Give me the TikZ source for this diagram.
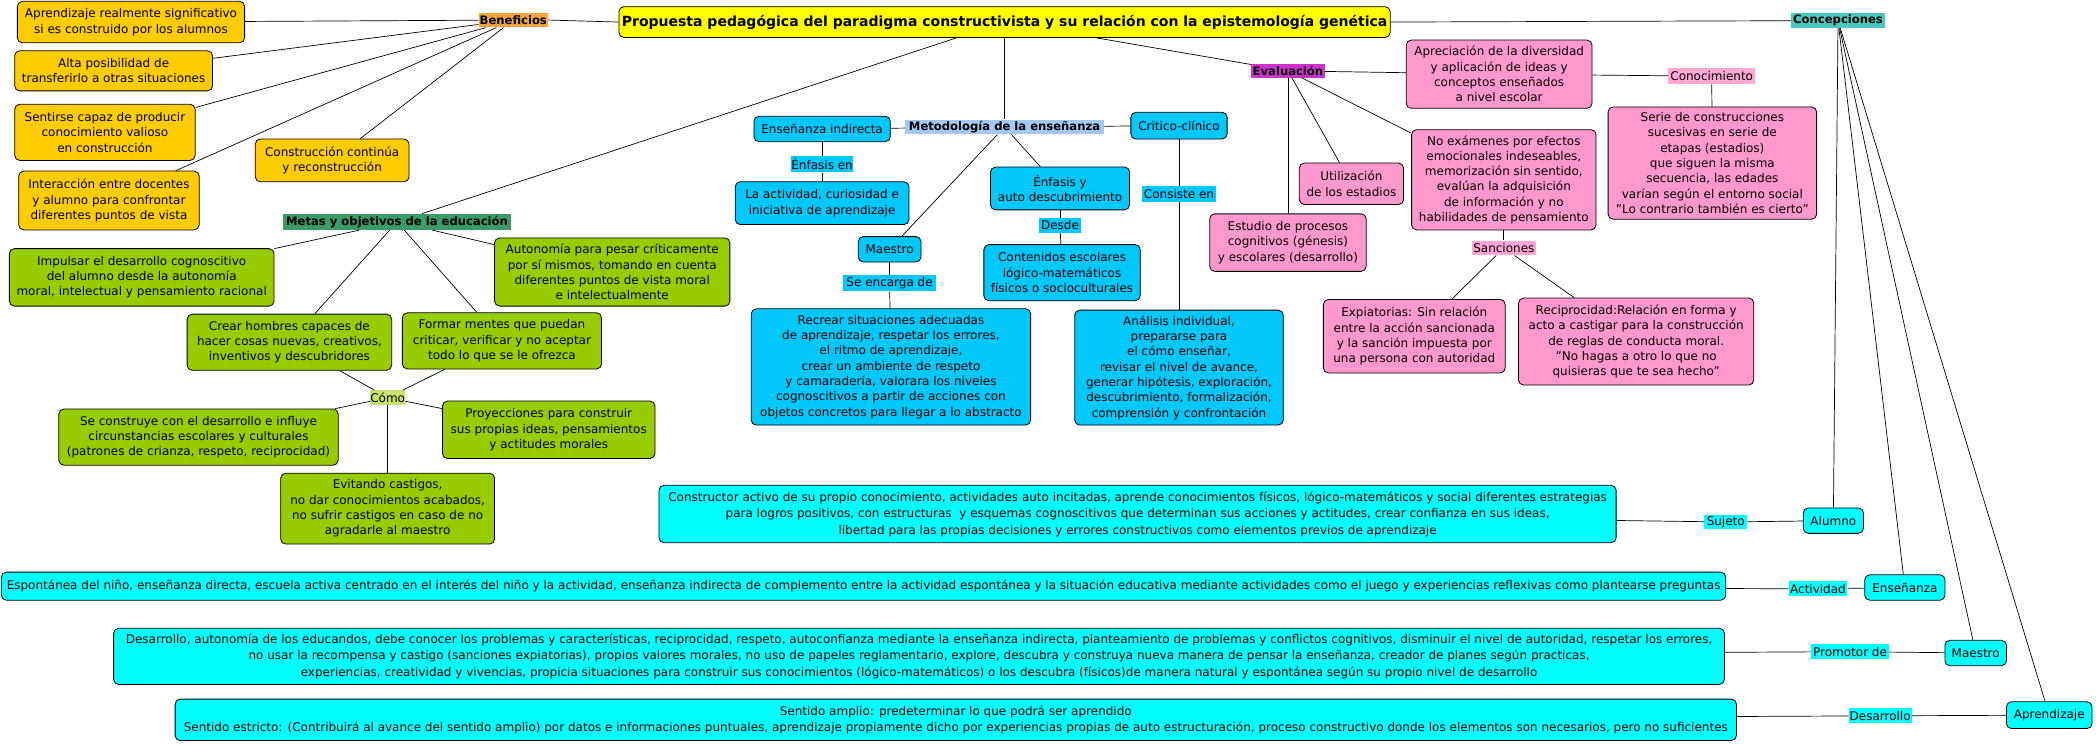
\documentclass[tikz,border=0pt]{standalone}
\usepackage{fontspec}
\setmainfont{DejaVu Sans}
\definecolor{cTitle}{HTML}{FFFF00}
\definecolor{cBen}{HTML}{F2A33A}
\definecolor{cGold}{HTML}{FFCC00}
\definecolor{cMetas}{HTML}{3A9A6A}
\definecolor{cGreen}{HTML}{99CC00}
\definecolor{cComo}{HTML}{C8E270}
\definecolor{cMet}{HTML}{A4C8F0}
\definecolor{cCyan}{HTML}{00C8FA}
\definecolor{cEval}{HTML}{CC33CC}
\definecolor{cPink}{HTML}{FF99CC}
\definecolor{cPinkL}{HTML}{FFA8D4}
\definecolor{cConc}{HTML}{48C9C0}
\definecolor{cAqua}{HTML}{00FFFF}
\begin{document}
\begin{tikzpicture}[x=1.33673pt,y=-1.33673pt,
  sz/.style 2 args={minimum width=#1*1.33673pt, minimum height=#2*1.33673pt},
  box/.style={draw=black, line width=0.8pt, rounded corners=5pt, align=center, inner sep=0pt, font=\fontsize{12}{15.3}\selectfont},
  bbox/.style={box, fill=cAqua, font=\fontsize{12}{16.5}\selectfont},
  lab/.style={inner sep=0pt, align=center, font=\fontsize{12}{14}\selectfont},
  blab/.style={inner sep=0pt, align=center, font=\fontsize{11.6}{14}\selectfont\bfseries},
  conn/.style={draw=black, line width=0.7pt}]
\fill[white] (0,0) rectangle (1568,556.6);
\useasboundingbox (0,0) rectangle (1568,556.6);

% title
\node[box, fill=cTitle, sz={577}{23}, font=\fontsize{14}{16}\selectfont\bfseries] (title) at (751.5,16.5) {Propuesta pedagógica del paradigma constructivista y su relación con la epistemología genética};

% Beneficios
\node[blab, fill=cBen, sz={52}{11}] (ben) at (384,15) {Beneficios};
\node[box, fill=cGold, sz={170}{31}] (b1) at (98,16.5) {Aprendizaje realmente significativo\\si es construido por los alumnos};
\node[box, fill=cGold, sz={148}{30}] (b2) at (85,53) {Alta posibilidad de\\transferirlo a otras situaciones};
\node[box, fill=cGold, sz={135}{42}] (b3) at (78.5,99) {Sentirse capaz de producir\\conocimiento valioso\\en construcción};
\node[box, fill=cGold, sz={135}{44}] (b4) at (81.5,150) {Interacción entre docentes\\y alumno para confrontar\\diferentes puntos de vista};
\node[box, fill=cGold, sz={115}{32}] (b5) at (248.5,120) {Construcción continúa\\y reconstrucción};

% Metas
\node[blab, fill=cMetas, sz={170}{12}] (metas) at (297,166) {Metas y objetivos de la educación};
\node[box, fill=cGreen, sz={198}{43}] (m1) at (106,207.5) {Impulsar el desarrollo cognoscitivo\\del alumno desde la autonomía\\moral, intelectual y pensamiento racional};
\node[box, fill=cGreen, sz={176}{51}] (m2) at (458,203.5) {Autonomía para pesar críticamente\\por sí mismos, tomando en cuenta\\diferentes puntos de vista moral\\e intelectualmente};
\node[box, fill=cGreen, sz={153}{42}] (m3) at (216.5,256) {Crear hombres capaces de\\hacer cosas nuevas, creativos,\\inventivos y descubridores};
\node[box, fill=cGreen, sz={149}{42}] (m4) at (375.5,255) {Formar mentes que puedan\\criticar, verificar y no aceptar\\todo lo que se le ofrezca};
\node[lab, fill=cComo, sz={26}{11}] (como) at (290,297.5) {Cómo};
\node[box, fill=cGreen, sz={209}{42}] (c1) at (148.5,327) {Se construye con el desarrollo e influye\\circunstancias escolares y culturales\\(patrones de crianza, respeto, reciprocidad)};
\node[box, fill=cGreen, sz={159}{43}] (c2) at (410.5,321.5) {Proyecciones para construir\\sus propias ideas, pensamientos\\y actitudes morales};
\node[box, fill=cGreen, sz={160}{53}] (c3) at (290,380.5) {Evitando castigos,\\no dar conocimientos acabados,\\no sufrir castigos en caso de no\\agradarle al maestro};

% Metodologia
\node[blab, fill=cMet, sz={149}{11}] (met) at (751.5,95) {Metodología de la enseñanza};
\node[box, fill=cCyan, sz={102}{19}] (ensind) at (615,96.5) {Enseñanza indirecta};
\node[lab, fill=cCyan, sz={46}{12}] (enf1) at (615,123) {Énfasis en};
\node[box, fill=cCyan, sz={130}{32}] (act) at (615,152) {La actividad, curiosidad e\\iniciativa de aprendizaje};
\node[box, fill=cCyan, sz={72}{20}] (crit) at (882,94) {Critico-clínico};
\node[lab, fill=cCyan, sz={56}{12}] (consiste) at (882,145) {Consiste en};
\node[box, fill=cCyan, sz={156}{86}] (anal) at (882,275) {Análisis individual,\\prepararse para\\el cómo enseñar,\\revisar el nivel de avance,\\generar hipótesis, exploración,\\descubrimiento, formalización,\\comprensión y confrontación};
\node[box, fill=cCyan, sz={104}{32}] (enfy) at (793,141) {Énfasis y\\auto descubrimiento};
\node[lab, fill=cCyan, sz={32}{11}] (desde) at (793,168.5) {Desde};
\node[box, fill=cCyan, sz={117}{42}] (cont) at (794.5,204) {Contenidos escolares\\lógico-matemáticos\\físicos o socioculturales};
\node[box, fill=cCyan, sz={47}{19}] (maes) at (665.5,186.5) {Maestro};
\node[lab, fill=cCyan, sz={69}{12}] (seenc) at (665.5,212) {Se encarga de};
\node[box, fill=cCyan, sz={209}{87}] (recrear) at (666.5,274.5) {Recrear situaciones adecuadas\\de aprendizaje, respetar los errores,\\el ritmo de aprendizaje,\\crear un ambiente de respeto\\y camaradería, valorara los niveles\\cognoscitivos a partir de acciones con\\objetos concretos para llegar a lo abstracto};

% Evaluacion
\node[blab, fill=cEval, sz={55}{10}] (eval) at (963.5,53) {Evaluación};
\node[box, fill=cPink, sz={139}{51}] (apre) at (1121.5,55.5) {Apreciación de la diversidad\\y aplicación de ideas y\\conceptos enseñados\\a nivel escolar};
\node[lab, fill=cPinkL, sz={65}{12}] (conoc) at (1280.5,57) {Conocimiento};
\node[box, fill=cPink, sz={156}{84}] (serie) at (1281,122) {Serie de construcciones\\sucesivas en serie de\\etapas (estadios)\\que siguen la misma\\secuencia, las edades\\varían según el entorno social\\"Lo contrario también es cierto"};
\node[box, fill=cPink, sz={78}{31}] (util) at (1011,137.5) {Utilización\\de los estadios};
\node[box, fill=cPink, sz={117}{43}] (estud) at (963.5,181.5) {Estudio de procesos\\cognitivos (génesis)\\y escolares (desarrollo)};
\node[box, fill=cPink, sz={138}{75}] (noex) at (1125,134.5) {No exámenes por efectos\\emocionales indeseables,\\memorización sin sentido,\\evalúan la adquisición\\de información y no\\habilidades de pensamiento};
\node[lab, fill=cPinkL, sz={48}{11}] (sanc) at (1125,185.5) {Sanciones};
\node[box, fill=cPink, sz={136}{55}] (expi) at (1058,251.5) {Expiatorias: Sin relación\\entre la acción sancionada\\y la sanción impuesta por\\una persona con autoridad};
\node[box, fill=cPink, sz={176}{65}] (recip) at (1224,255.5) {Reciprocidad:Relación en forma y\\acto a castigar para la construcción\\de reglas de conducta moral.\\"No hagas a otro lo que no\\quisieras que te sea hecho"};

% Concepciones
\node[blab, fill=cConc, sz={70}{11}] (conc) at (1375,15.5) {Concepciones};
\node[bbox, sz={45}{19}] (alumno) at (1371.5,389.5) {Alumno};
\node[lab, fill=cAqua, sz={32}{11}] (sujeto) at (1291,390.5) {Sujeto};
\node[bbox, sz={716}{43}] (constr) at (851,384.5) {Constructor activo de su propio conocimiento, actividades auto incitadas, aprende conocimientos físicos, lógico-matemáticos y social diferentes estrategias\\para logros positivos, con estructuras\ \ y esquemas cognoscitivos que determinan sus acciones y actitudes, crear confianza en sus ideas,\\libertad para las propias decisiones y errores constructivos como elementos previos de aprendizaje};
\node[bbox, sz={60}{19}] (ens) at (1425,439.5) {Enseñanza};
\node[lab, fill=cAqua, sz={44}{11}] (activ) at (1360,440.5) {Actividad};
\node[bbox, sz={1290}{21}] (espon) at (646,438.5) {Espontánea del niño, enseñanza directa, escuela activa centrado en el interés del niño y la actividad, enseñanza indirecta de complemento entre la actividad espontánea y la situación educativa mediante actividades como el juego y experiencias reflexivas como plantearse preguntas};
\node[bbox, sz={46}{19}] (maes2) at (1478,488.5) {Maestro};
\node[lab, fill=cAqua, sz={58}{11}] (prom) at (1384,487.5) {Promotor de};
\node[bbox, sz={1205}{42}] (desa) at (687.5,491) {Desarrollo, autonomía de los educandos, debe conocer los problemas y características, reciprocidad, respeto, autoconfianza mediante la enseñanza indirecta, planteamiento de problemas y conflictos cognitivos, disminuir el nivel de autoridad, respetar los errores,\\no usar la recompensa y castigo (sanciones expiatorias), propios valores morales, no uso de papeles reglamentario, explore, descubra y construya nueva manera de pensar la enseñanza, creador de planes según practicas,\\experiencias, creatividad y vivencias, propicia situaciones para construir sus conocimientos (lógico-matemáticos) o los descubra (físicos)de manera natural y espontánea según su propio nivel de desarrollo};
\node[bbox, sz={64}{20}] (apr) at (1533,535) {Aprendizaje};
\node[lab, fill=cAqua, sz={47}{11}] (desl) at (1406.5,535.5) {Desarrollo};
\node[bbox, sz={1168}{31}] (sent) at (715,538.5) {Sentido amplio: predeterminar lo que podrá ser aprendido\\Sentido estricto: (Contribuirá al avance del sentido amplio) por datos e informaciones puntuales, aprendizaje propiamente dicho por experiencias propias de auto estructuración, proceso constructivo donde los elementos son necesarios, pero no suficientes};

% connectors
\draw[conn] (ben.east) -- (title.west);
\draw[conn] (title.east) -- (conc.west);
\draw[conn] (title) -- (metas);
\draw[conn] (title) -- (met);
\draw[conn] (title) -- (eval);
\foreach \n in {b1,b2,b3,b4,b5} \draw[conn] (ben) -- (\n);
\foreach \n in {m1,m2,m3,m4} \draw[conn] (metas) -- (\n);
\draw[conn] (m3) -- (como);
\draw[conn] (m4) -- (como);
\foreach \n in {c1,c2,c3} \draw[conn] (como) -- (\n);
\draw[conn] (met) -- (ensind);
\draw[conn] (ensind) -- (enf1);
\draw[conn] (enf1) -- (act);
\draw[conn] (met) -- (crit);
\draw[conn] (crit) -- (consiste);
\draw[conn] (consiste) -- (anal);
\draw[conn] (met) -- (maes);
\draw[conn] (maes) -- (seenc);
\draw[conn] (seenc) -- (recrear);
\draw[conn] (met) -- (enfy);
\draw[conn] (enfy) -- (desde);
\draw[conn] (desde) -- (cont);
\draw[conn] (eval) -- (apre);
\draw[conn] (apre) -- (conoc);
\draw[conn] (conoc) -- (serie);
\draw[conn] (eval) -- (estud);
\draw[conn] (eval) -- (util);
\draw[conn] (eval) -- (noex);
\draw[conn] (noex) -- (sanc);
\draw[conn] (sanc) -- (expi);
\draw[conn] (sanc) -- (recip);
\foreach \n in {alumno,ens,maes2,apr} \draw[conn] (conc) -- (\n);
\draw[conn] (alumno) -- (sujeto);
\draw[conn] (sujeto) -- (constr);
\draw[conn] (ens) -- (activ);
\draw[conn] (activ) -- (espon);
\draw[conn] (maes2) -- (prom);
\draw[conn] (prom) -- (desa);
\draw[conn] (apr) -- (desl);
\draw[conn] (desl) -- (sent);
\end{tikzpicture}
\end{document}
